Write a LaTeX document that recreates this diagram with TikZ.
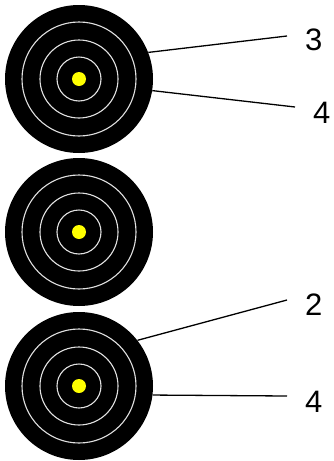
\documentclass[tikz,border=0pt]{standalone}
\usepackage{fontspec}
\setmainfont{Liberation Sans}
\usetikzlibrary{positioning}
\definecolor{ringc}{RGB}{225,225,225}
\definecolor{dotc}{RGB}{255,255,0}
\tikzset{
  target/.style = {circle, fill=black, minimum size=148pt, inner sep=0pt},
  ring/.style   = {draw=ringc, line width=1.1pt},
  bull/.style   = {circle, fill=dotc, minimum size=14pt, inner sep=0pt},
  lead/.style   = {draw=black, line width=1.3pt},
  num/.style    = {font=\fontsize{31}{31}\selectfont, inner sep=0pt},
}

\begin{document}
\begin{tikzpicture}[x=1pt, y=-1pt]
\useasboundingbox (0,0) rectangle (333,461);

% ---------- the three targets ----------
\node[target] (t1) at (79,79) {};
\node[target] (t2) at (79,232) {};
\node[target] (t3) at (79,386) {};
\foreach \t in {t1,t2,t3} {
  \draw[ring] (\t.center) circle (22pt);
  \draw[ring] (\t.center) circle (39pt);
  \draw[ring] (\t.center) circle (57pt);
  \node[bull] (\t-dot) at (\t.center) {};
}

% ---------- leader lines and numbers ----------
\coordinate (e1) at (287,36);
\coordinate (e2) at (295,107);
\coordinate (e3) at (287,300);
\coordinate (e4) at (287,396);
\draw[lead] (t1.21) -- (e1);
\draw[lead] (t1.-9) -- (e2);
\draw[lead] (t3.38) -- (e3);
\draw[lead] (t3.-7) -- (e4);
\node[num, right=18pt of e1, yshift=-4pt] (n1) {3};
\node[num, right=18pt of e2, yshift=-6pt] (n2) {4};
\node[num, right=18pt of e3, yshift=-5pt] (n3) {2};
\node[num, right=18pt of e4, yshift=-6pt] (n4) {4};

\end{tikzpicture}
\end{document}
